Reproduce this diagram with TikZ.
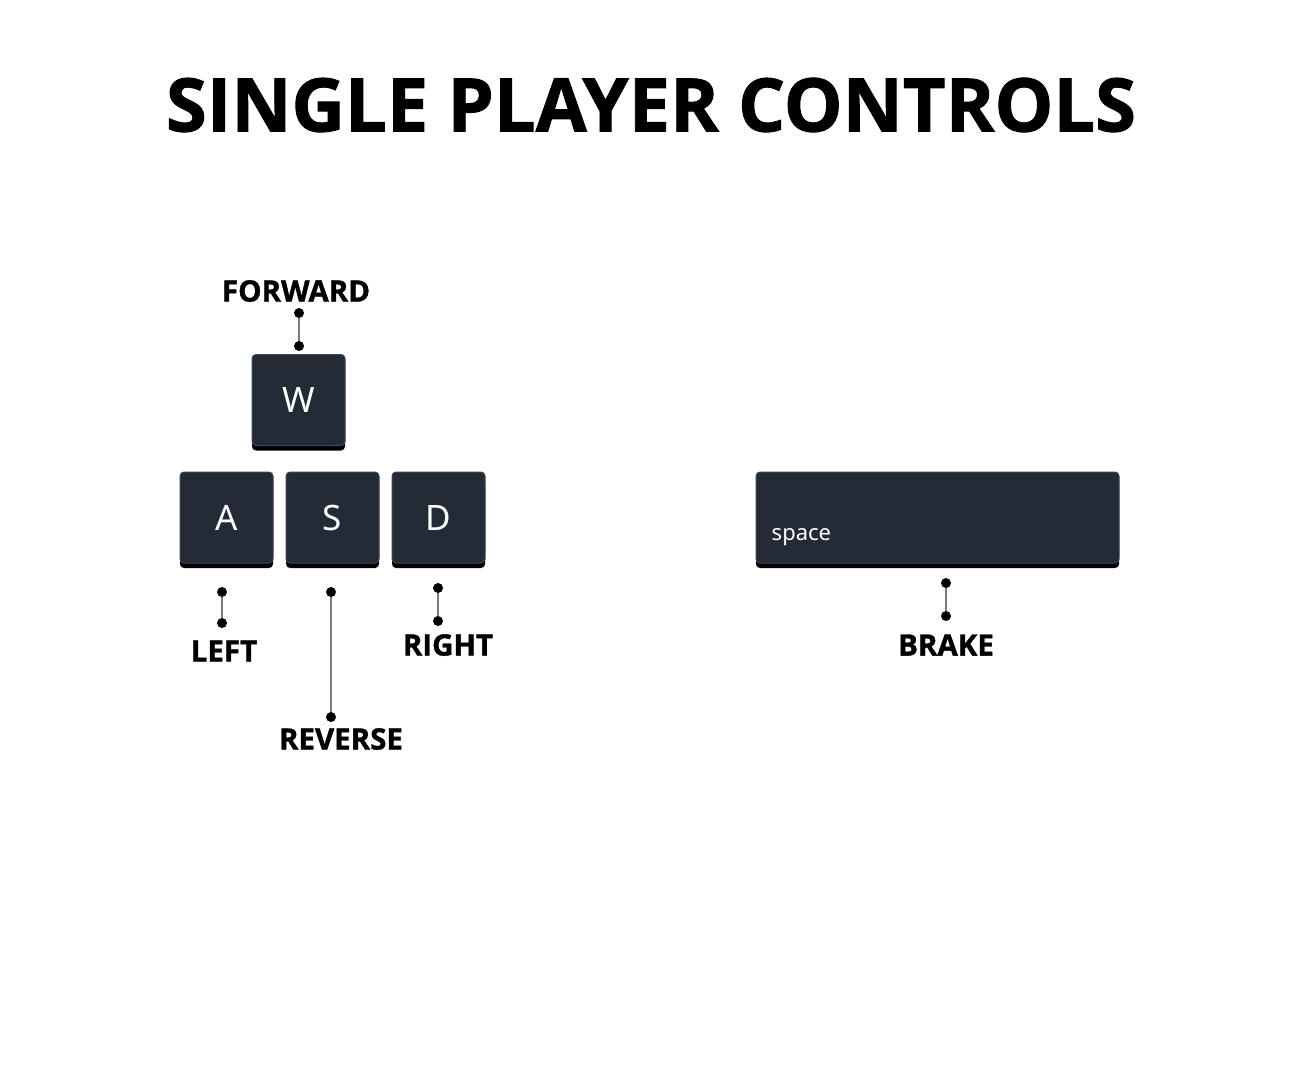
\documentclass[tikz,border=0pt]{standalone}
\usepackage{fontspec}
\setmainfont{Open Sans}
\newfontfamily\keyfont{Noto Sans}
\newfontfamily\heavyfont[FakeBold=1.2]{Open Sans Bold}
\usetikzlibrary{positioning,shadows}

\definecolor{keyface}{HTML}{232B36}
\definecolor{keyedge}{HTML}{3C4652}
\definecolor{wire}{HTML}{7A7A7A}

\begin{document}
\begin{tikzpicture}[
  x=1pt, y=-1pt,
  key/.style={draw=keyedge, line width=1pt, fill=keyface, rounded corners=4pt,
              minimum width=93pt, minimum height=91pt, inner sep=0pt,
              text=white, font=\keyfont\fontsize{35}{35}\selectfont,
              drop shadow={shadow xshift=0pt, shadow yshift=-5pt, fill=black, opacity=1}},
  lab/.style={font=\heavyfont\fontsize{29.5}{29.5}\selectfont, inner sep=0pt},
  dot/.style={circle, fill=black, inner sep=0pt, minimum size=10pt},
  wire/.style={draw=wire, line width=1.6pt},
]
  \useasboundingbox (0,0) rectangle (1300,1080);

  \node[font=\heavyfont\fontsize{74}{74}\selectfont, inner sep=0pt] (title) at (651,105) {SINGLE PLAYER CONTROLS};

  % keys
  \node[key] (w) at (298.5,400) {W};
  \node[key] (a) at (226.5,517.5) {A};
  \node[key, right=12pt of a] (s) {S};
  \node[key, right=12pt of s] (d) {D};
  \node[key, minimum width=363pt] (space) at (937.5,517.5) {};
  \node[text=white, font=\keyfont\fontsize{22}{22}\selectfont, inner sep=0pt, anchor=base west]
    (spacetxt) at ([xshift=16pt, yshift=23pt]space.south west) {space};

  % labels
  \node[lab] (forward) at (296,291) {FORWARD};
  \node[lab] (left) at (224,651) {LEFT};
  \node[lab] (reverse) at (341,739) {REVERSE};
  \node[lab] (right) at (448,645) {RIGHT};
  \node[lab] (brake) at (946,645) {BRAKE};

  % connectors
  \node[dot] (fw1) at (299,313) {};
  \node[dot] (fw2) at (299,346) {};
  \node[dot] (lf1) at (222,592) {};
  \node[dot] (lf2) at (222,623) {};
  \node[dot] (rv1) at (331,592) {};
  \node[dot] (rv2) at (331,717) {};
  \node[dot] (rt1) at (438,588) {};
  \node[dot] (rt2) at (438,621) {};
  \node[dot] (br1) at (946,583) {};
  \node[dot] (br2) at (946,616) {};
  \draw[wire] (fw1) -- (fw2);
  \draw[wire] (lf1) -- (lf2);
  \draw[wire] (rv1) -- (rv2);
  \draw[wire] (rt1) -- (rt2);
  \draw[wire] (br1) -- (br2);
\end{tikzpicture}
\end{document}
